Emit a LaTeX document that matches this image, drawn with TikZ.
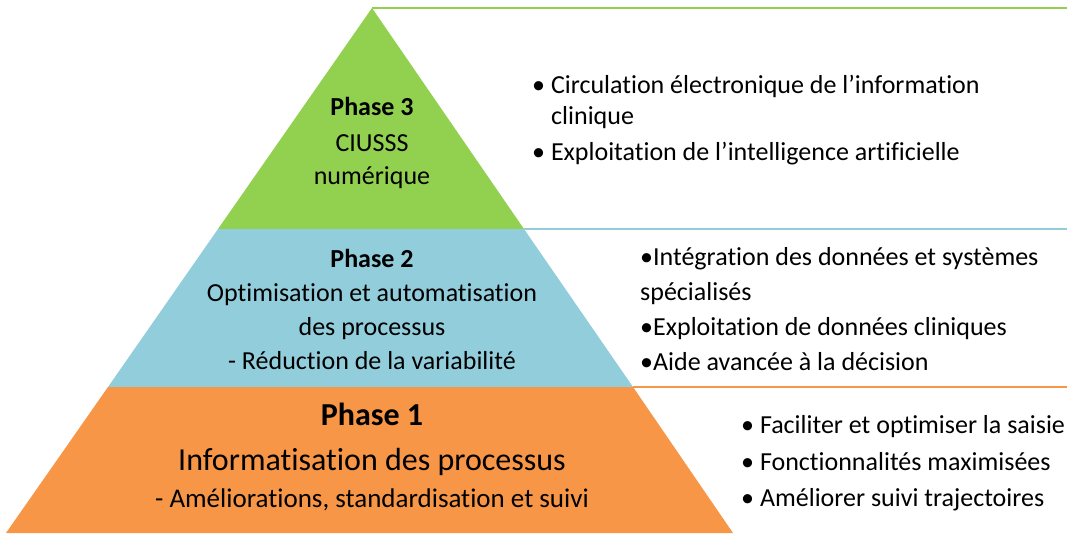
\documentclass[tikz,border=0pt]{standalone}
\usepackage{fontspec}
\setmainfont{Carlito}[Ligatures=NoCommon]
\definecolor{phasegreen}{HTML}{92D050}
\definecolor{phaseblue}{HTML}{92CDDC}
\definecolor{phaseorange}{HTML}{F79646}
\tikzset{
  tierline/.style={anchor=base, inner sep=0pt, text=black},
  itemline/.style={anchor=base west, inner sep=0pt, text=black,
    font=\fontsize{26}{30}\selectfont},
  rule/.style={line width=1.5pt},
}

\begin{document}
\begin{tikzpicture}[x=1pt, y=-1pt]
\useasboundingbox (0,0) rectangle (1067,533);
\fill[white] (0,0) rectangle (1067,533);

% corners of the pyramid
\coordinate (apex) at (372,8);
\coordinate (gl) at (218,229);
\coordinate (gr) at (524,229);
\coordinate (bl) at (108,387);
\coordinate (br) at (633,387);
\coordinate (ol) at (6,533);
\coordinate (or) at (733,533);
% right ends of the rules
\coordinate (e3) at (1067,8);
\coordinate (e2) at (1067,229);
\coordinate (e1) at (1067,387);

\fill[phasegreen] (apex) -- (gr) -- (gl) -- cycle;
\fill[phaseblue] (gl) -- (gr) -- (br) -- (bl) -- cycle;
\fill[phaseorange] (bl) -- (br) -- (or) -- (ol) -- cycle;

\draw[rule, phasegreen] (apex) -- (e3);
\draw[rule, phaseblue] (gr) -- (e2);
\draw[rule, phaseorange] (br) -- (e1);

% texts inside the tiers
\foreach \t/\y [count=\i] in {\textbf{Phase 3}/115, CIUSSS/151, numérique/184}
  \node[tierline, font=\fontsize{26}{30}\selectfont] (p3-\i) at (372,\y) {\t};

\foreach \t/\y [count=\i] in {\textbf{Phase 2}/267, Optimisation et automatisation/301,
    des processus/335, - Réduction de la variabilité/369}
  \node[tierline, font=\fontsize{26}{30}\selectfont] (p2-\i) at (372,\y) {\t};

\foreach \t/\y/\s [count=\i] in {\textbf{Phase 1}/425/32, Informatisation des processus/470/32,
    {- Améliorations, standardisation et suivi}/507/27}
  \node[tierline, font=\fontsize{\s}{\s}\selectfont] (p1-\i) at (372,\y) {\t};

% lists on the right
\foreach \x/\y/\t [count=\i] in {532/93/{• Circulation électronique de l’information},
    551/124/clinique, 532/160/{• Exploitation de l’intelligence artificielle}}
  \node[itemline] (r3-\i) at (\x,\y) {\t};

\foreach \x/\y/\t [count=\i] in {640/265/{•Intégration des données et systèmes},
    640/300/spécialisés, 640/335/{•Exploitation de données cliniques},
    640/370/{•Aide avancée à la décision}}
  \node[itemline] (r2-\i) at (\x,\y) {\t};

\foreach \x/\y/\t [count=\i] in {741/433/{• Faciliter et optimiser la saisie},
    741/470/{• Fonctionnalités maximisées}, 741/506/{• Améliorer suivi trajectoires}}
  \node[itemline] (r1-\i) at (\x,\y) {\t};
\end{tikzpicture}
\end{document}
